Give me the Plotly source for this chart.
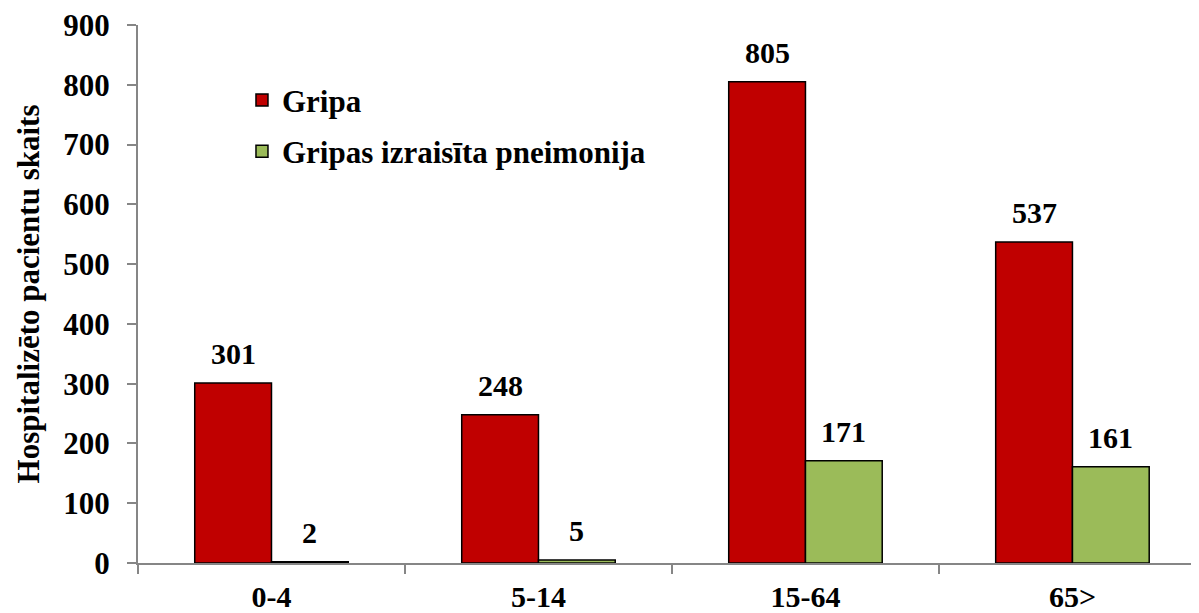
import plotly.graph_objects as go

categories = ["0-4", "5-14", "15-64", "65>"]
gripa = [301, 248, 805, 537]
pneimonija = [2, 5, 171, 161]
series_names = ["Gripa", "Gripas izraisīta pneimonija"]
y_title = "Hospitalizēto pacientu skaits"

FONT = "Times New Roman"
AXIS_COLOR = "#868686"
BARGAP = 0.425
X_RANGE = [-0.5, 3.474]
PLOT_W = 1191 - 130

fig = go.Figure()
fig.add_trace(go.Bar(
    x=categories, y=gripa, name=series_names[0], legendgroup="a",
    marker=dict(color="#C00000", line=dict(color="black", width=1.5)),
))
fig.add_trace(go.Bar(
    x=categories, y=pneimonija, name=series_names[1], legendgroup="b",
    marker=dict(color="#9BBB59", line=dict(color="black", width=1.5)),
))

# data labels centred above each bar
cat_px = PLOT_W / (X_RANGE[1] - X_RANGE[0])
half_bar = cat_px * (1 - BARGAP) / 4
for vals, sign in ((gripa, -1), (pneimonija, 1)):
    for c, v in zip(categories, vals):
        fig.add_annotation(
            x=c, y=v, text=str(v), showarrow=False,
            xanchor="center", yanchor="bottom",
            xshift=sign * half_bar, yshift=11,
            font=dict(family=FONT, size=30, color="black", weight="bold"),
        )

fig.update_layout(
    width=1191, height=605,
    margin=dict(l=130, r=0, t=17, b=50, autoexpand=False),
    paper_bgcolor="white", plot_bgcolor="white",
    barmode="group", bargap=BARGAP, bargroupgap=0,
    font=dict(family=FONT, size=30, color="black", weight="bold"),
    showlegend=True,
    legend=dict(
        x=0.098, y=0.91, xanchor="left", yanchor="top",
        font=dict(family=FONT, size=31, color="black", weight="bold"),
        tracegroupgap=8, bgcolor="rgba(0,0,0,0)",
    ),
)
fig.update_xaxes(
    range=X_RANGE, showline=True, linecolor=AXIS_COLOR, linewidth=2,
    ticks="outside", tickson="boundaries", ticklen=9, tickwidth=2, tickcolor=AXIS_COLOR,
    tickfont=dict(family=FONT, size=30, color="black", weight="bold"),
    ticklabelstandoff=6, ticklabeloverflow="allow",
    showgrid=False, zeroline=False, automargin=False,
)
fig.update_yaxes(
    range=[0, 900], dtick=100, showline=True, linecolor=AXIS_COLOR, linewidth=2,
    ticks="outside", ticklen=9, tickwidth=2, tickcolor=AXIS_COLOR,
    tickfont=dict(family=FONT, size=31, color="black", weight="bold"),
    ticklabelstandoff=11, ticklabeloverflow="allow",
    showgrid=False, zeroline=False, automargin=False,
    title=dict(text=y_title, font=dict(family=FONT, size=31, color="black", weight="bold"), standoff=14),
)

fig.write_html("out.html")
